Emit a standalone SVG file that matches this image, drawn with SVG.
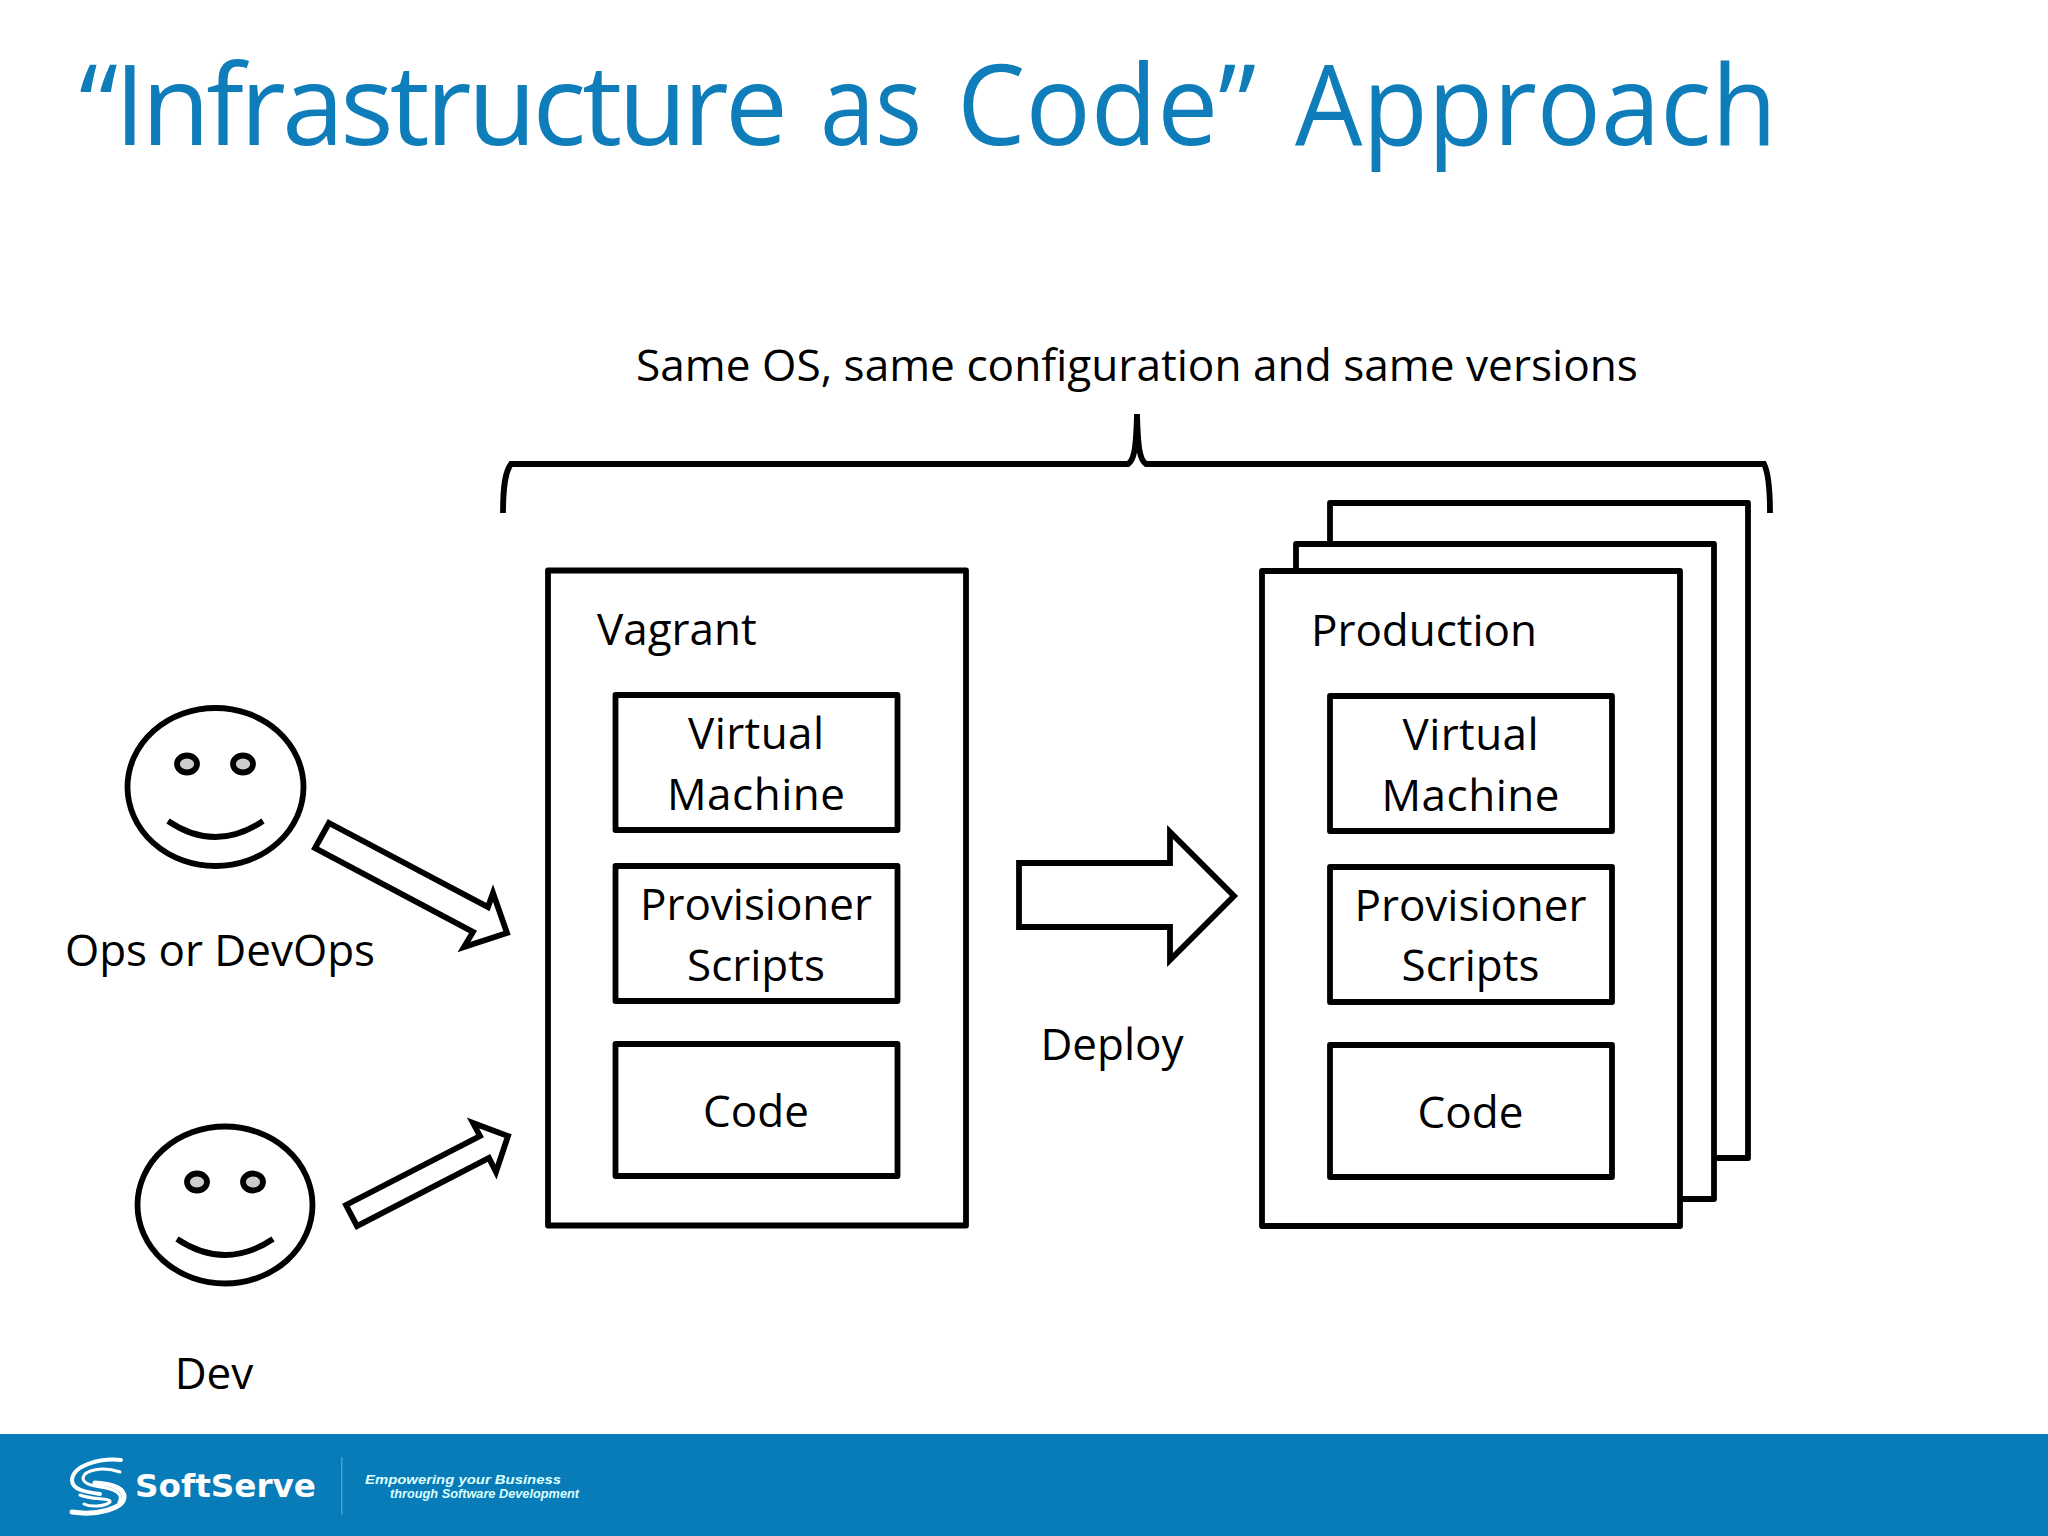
<svg xmlns="http://www.w3.org/2000/svg" width="2048" height="1536" viewBox="0 0 2048 1536">
<style>
text{font-family:"Open Sans","Noto Sans","Liberation Sans",sans-serif;fill:#000;font-size:44px}
.c{text-anchor:middle}
.s{fill:#fff;stroke:#000;stroke-width:5.800;stroke-linejoin:miter;stroke-miterlimit:10}
.b{fill:#fff;stroke:#000;stroke-width:5.800;stroke-linejoin:round}
.l{fill:none;stroke:#000;stroke-width:5.800}
.e{fill:#ccc;stroke:#000;stroke-width:5.800}
.f{font-family:"Liberation Sans",sans-serif;font-weight:700;font-style:italic;fill:#dff}
</style>
<rect width="2048" height="1536" fill="#fff"/>
<text id="title" y="145" style="font-size:112px;font-weight:400;fill:#0f7dba"><tspan x="79" style="letter-spacing:-3.900px">“Infrastructure</tspan> <tspan x="820" textLength="102" lengthAdjust="spacingAndGlyphs">as</tspan> <tspan x="957" textLength="299" lengthAdjust="spacingAndGlyphs">Code”</tspan> <tspan x="1295" textLength="482" lengthAdjust="spacingAndGlyphs">Approach</tspan></text>
<text x="1137" y="381" class="c" style="font-size:44.200px">Same OS, same configuration and same versions</text>
<g id="connectors">
<path id="brace" class="l" d="M503 513C503 487 505 472 511 464H1128C1134 460 1136 450 1137 414C1138 450 1140 460 1146 464H1764C1768 472 1770 487 1770 513"/>
<polygon id="arrow-ops" class="s" points="329,823 488,907 493,893 507,933 464,947 473,932 315,848"/>
<polygon id="arrow-dev" class="s" points="346,1205 480,1136 473,1123 508,1136 496,1172 489,1158 357,1226"/>
<polygon id="arrow-deploy" class="s" points="1019,863 1170,863 1170,832 1234,896 1170,960 1170,927 1019,927"/>
</g>
<g id="ops"><ellipse class="s" cx="215.500" cy="787" rx="88" ry="79"/><ellipse class="e" cx="187" cy="764" rx="10" ry="8.500"/><ellipse class="e" cx="243" cy="764" rx="10" ry="8.500"/><path class="l" d="M168 821Q215 853 263 821"/><text x="220" y="966" class="c">Ops or DevOps</text></g>
<g id="dev"><ellipse class="s" cx="225" cy="1205" rx="87.500" ry="78.500"/><ellipse class="e" cx="197" cy="1182" rx="10" ry="8.500"/><ellipse class="e" cx="253" cy="1182" rx="10" ry="8.500"/><path class="l" d="M177 1239Q225 1271 273 1239"/><text x="214" y="1389" class="c">Dev</text></g>
<g id="vagrant"><rect class="b" x="548" y="570.500" width="418" height="655"/><text x="597" y="645">Vagrant</text>
<rect class="b" x="615.500" y="695" width="282" height="135"/><text class="c" x="756" y="749" textLength="136">Virtual</text><text class="c" x="756" y="810" textLength="178">Machine</text>
<rect class="b" x="615.500" y="866" width="282" height="135"/><text class="c" x="756" y="920" textLength="232">Provisioner</text><text class="c" x="756" y="981">Scripts</text>
<rect class="b" x="615.500" y="1044" width="282" height="132"/><text class="c" x="756" y="1127">Code</text></g>
<g id="deploy"><text class="c" x="1112" y="1060">Deploy</text></g>
<g id="production"><rect class="b" x="1330" y="503" width="418" height="655"/><rect class="b" x="1296" y="544" width="418" height="655"/><rect class="b" x="1262" y="571" width="418" height="655"/><text x="1311" y="646" textLength="226">Production</text>
<rect class="b" x="1330" y="696" width="282" height="135"/><text class="c" x="1470.500" y="750" textLength="136">Virtual</text><text class="c" x="1470.500" y="811" textLength="178">Machine</text>
<rect class="b" x="1330" y="867" width="282" height="135"/><text class="c" x="1470.500" y="921" textLength="232">Provisioner</text><text class="c" x="1470.500" y="981">Scripts</text>
<rect class="b" x="1330" y="1045" width="282" height="132"/><text class="c" x="1470.500" y="1128">Code</text></g>
<g id="footer"><rect y="1434" width="2048" height="102" fill="#077cb9"/>
<text x="135" y="1497" textLength="181" lengthAdjust="spacingAndGlyphs" style="font-family:'DejaVu Sans',sans-serif;font-weight:700;font-size:32px;fill:#fff">SoftServe</text>
<rect x="341" y="1457" width="1.500" height="58" fill="#4a9fcc"/>
<text x="365" y="1484" textLength="196" lengthAdjust="spacingAndGlyphs" class="f" style="font-size:13.500px">Empowering your Business</text>
<text x="390" y="1498" textLength="189" lengthAdjust="spacingAndGlyphs" class="f" style="font-size:12px">through Software Development</text>
<g id="logo" fill="none" stroke="#fff" stroke-linecap="round"><path stroke-width="4" d="M121 1460C100 1458 73 1465 72 1480C72 1490 86 1492 100 1494"/><path stroke-width="3" d="M120 1472C103 1466 84 1470 83 1478C83 1486 100 1486 110 1489C120 1492 122 1497 119 1502"/><path stroke-width="5" d="M72 1512C98 1516 124 1508 124 1497C124 1488 112 1484 95 1483"/><path stroke-width="3" d="M80 1495C92 1500 112 1498 110 1502C104 1507 90 1507 84 1504"/></g></g>
</svg>
